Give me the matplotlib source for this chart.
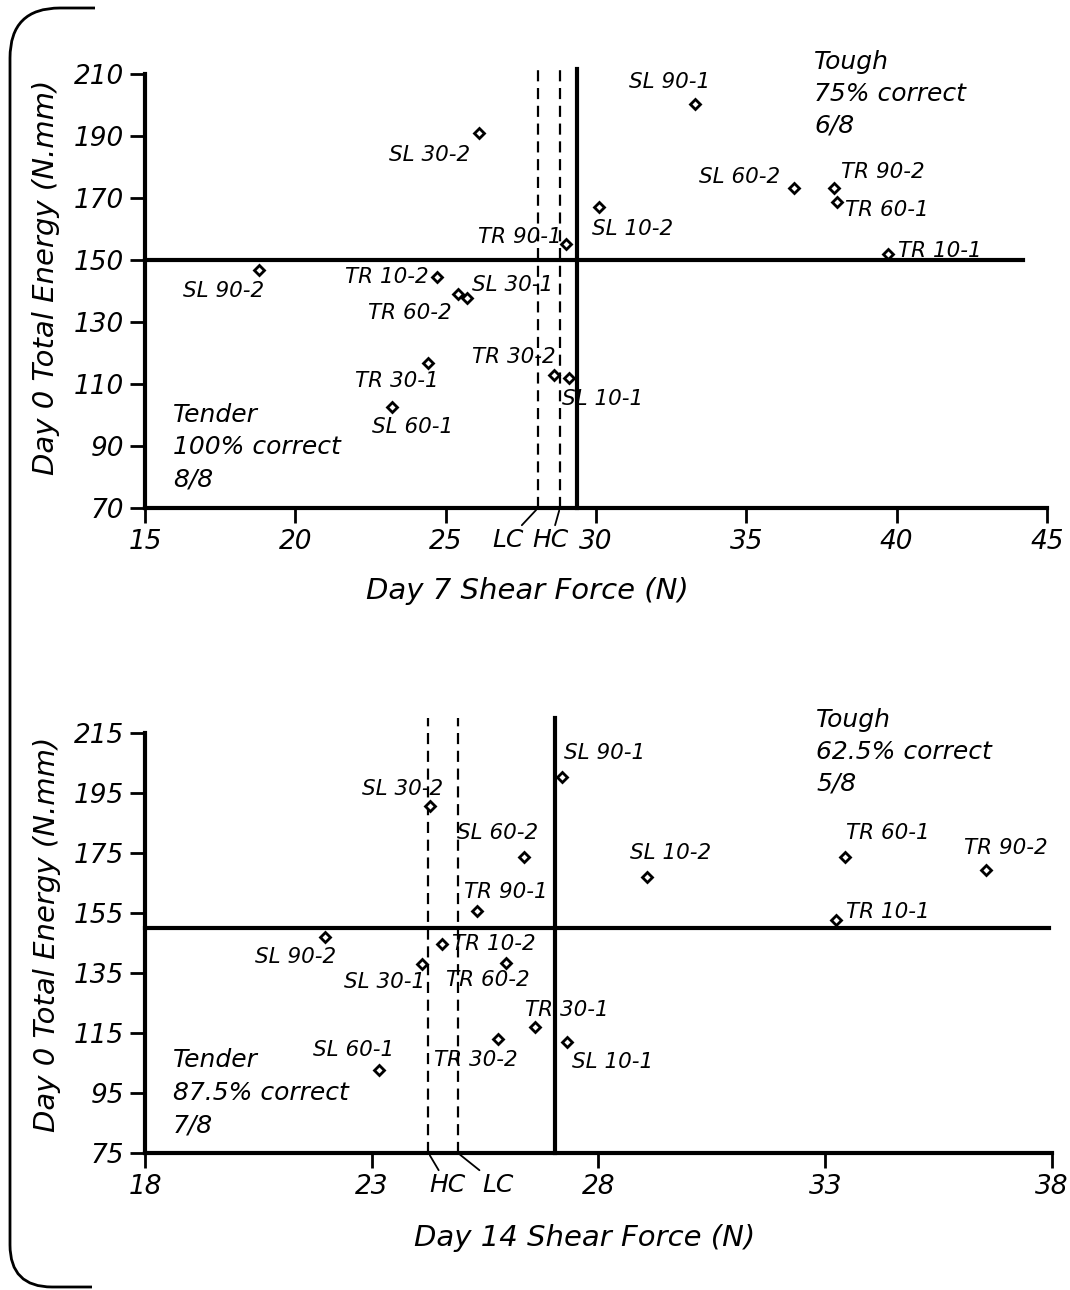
import matplotlib.pyplot as plt
from matplotlib.path import Path
from matplotlib.patches import PathPatch
from matplotlib.transforms import IdentityTransform

# ---- data: day 7 panel ----
d7_names = ["SL 90-1", "SL 30-2", "SL 60-2", "TR 90-2", "TR 60-1", "SL 10-2",
            "TR 90-1", "TR 10-1", "SL 90-2", "TR 10-2", "SL 30-1", "TR 60-2",
            "TR 30-2", "TR 30-1", "SL 10-1", "SL 60-1"]
d7_shear = [33.3, 26.1, 36.6, 37.9, 38.0, 30.1,
            29.0, 39.7, 18.8, 24.7, 25.7, 25.4,
            28.6, 24.4, 29.1, 23.2]
d7_energy = [200.2, 190.7, 173.2, 173.2, 168.5, 167.0,
             155.2, 152.0, 146.8, 144.3, 137.8, 138.8,
             113.0, 116.8, 112.0, 102.5]
d7_lc, d7_hc, d7_cut = 28.07, 28.8, 29.37
d7_tender = ["Tender", "100% correct", "8/8"]
d7_tough = ["Tough", "75% correct", "6/8"]

# ---- data: day 14 panel ----
d14_names = ["SL 90-1", "SL 30-2", "SL 60-2", "TR 60-1", "TR 90-2", "SL 10-2",
             "TR 90-1", "TR 10-1", "SL 90-2", "TR 10-2", "SL 30-1", "TR 60-2",
             "TR 30-2", "TR 30-1", "SL 10-1", "SL 60-1"]
d14_shear = [27.2, 24.28, 26.35, 33.43, 36.54, 29.06,
             25.31, 33.23, 21.97, 24.55, 24.11, 25.97,
             25.78, 26.61, 27.31, 23.17]
d14_energy = [200.4, 190.7, 173.6, 173.6, 169.3, 166.9,
              155.7, 152.7, 147.1, 144.6, 138.0, 138.4,
              113.0, 116.9, 112.1, 102.7]
d14_hc, d14_lc, d14_cut = 24.25, 24.9, 27.03
d14_tender = ["Tender", "87.5% correct", "7/8"]
d14_tough = ["Tough", "62.5% correct", "5/8"]

energy_cut = 150

# label offsets (pixels) relative to each marker
d7_offsets = [(-66, 22), (-90, -22), (-95, 11), (7, 16), (8, -8), (-7, -22),
              (-88, 7), (10, 3), (-76, -21), (-92, 0), (5, 13), (-90, -19),
              (-82, 18), (-73, -18), (-7, -21), (-20, -20)]
d14_offsets = [(2, 24), (-68, 17), (-67, 24), (1, 24), (-22, 22), (-17, 24),
               (-13, 19), (10, 8), (-70, -20), (10, 0), (-78, -18), (-60, -17),
               (-64, -21), (-10, 17), (5, -20), (-66, 20)]

plt.rcParams['font.family'] = ['DejaVu Sans']
plt.rcParams['font.style'] = 'italic'

W, H = 1070, 1290
fig = plt.figure(figsize=(W / 100, H / 100), dpi=100, facecolor='white')

ax1 = fig.add_axes([145 / W, 1 - 508 / H, 902 / W, 434.5 / H])
ax2 = fig.add_axes([145 / W, 1 - 1153 / H, 907 / W, 420 / H])


def style_axes(ax):
    for s in ['top', 'right']:
        ax.spines[s].set_visible(False)
    for s in ['left', 'bottom']:
        ax.spines[s].set_linewidth(3)
    ax.tick_params(direction='out', length=11, width=2, labelsize=19, pad=4)
    ax.set_facecolor('white')


def draw_panel(ax, names, xs, ys, offsets, xlim, ylim, xticks, yticks,
               lines_dash, cut, hline_end, vtop):
    style_axes(ax)
    ax.set_xlim(*xlim)
    ax.set_ylim(*ylim)
    ax.set_xticks(xticks)
    ax.set_yticks(yticks)
    ax.plot(xs, ys, linestyle='none', marker='D', markersize=5.5,
            markerfacecolor='white', markeredgecolor='black',
            markeredgewidth=2, zorder=5, clip_on=False)
    for name, x, y, off in zip(names, xs, ys, offsets):
        ax.annotate(name, (x, y), xytext=off, textcoords='offset pixels',
                    ha='left', va='center', fontsize=15.5)
    ax.plot([xlim[0], hline_end], [energy_cut, energy_cut], color='black',
            linewidth=3, clip_on=False)
    ax.plot([cut, cut], [ylim[0], vtop], color='black', linewidth=3,
            clip_on=False)
    for xd in lines_dash:
        ax.plot([xd, xd], [ylim[0], vtop], color='black', linewidth=1.6,
                linestyle=(0, (5, 3)), clip_on=False)


def block(ax, lines, x, y, step=32):
    # one text per line, stacked downwards
    for i, line in enumerate(lines):
        ax.annotate(line, (x, y), xycoords='axes fraction',
                    xytext=(0, -step * i), textcoords='offset pixels',
                    ha='left', va='center', fontsize=18)


# ---- top panel ----
draw_panel(ax1, d7_names, d7_shear, d7_energy, d7_offsets,
           (15, 45), (70, 210), range(15, 50, 5), range(70, 230, 20),
           [d7_lc, d7_hc], d7_cut, 44.2, 211.5)
ax1.set_xlabel('Day 7 Shear Force (N)', fontsize=21)
ax1.xaxis.set_label_coords(0.424, -0.159)
ax1.set_ylabel('Day 0 Total Energy (N.mm)', fontsize=21)
ax1.yaxis.set_label_coords(-0.094, 0.53)
block(ax1, d7_tender, 0.031, 0.214)
block(ax1, d7_tough, 0.742, 1.0265)
for lbl, xd, off in [('LC', d7_lc, (-30, -32)), ('HC', d7_hc, (-9, -32))]:
    ax1.annotate(lbl, (xd, 70), xytext=off, textcoords='offset pixels',
                 ha='center', va='center', fontsize=18,
                 arrowprops=dict(arrowstyle='-', lw=1.3, color='black',
                                 shrinkA=0, shrinkB=2))

# ---- bottom panel ----
draw_panel(ax2, d14_names, d14_shear, d14_energy, d14_offsets,
           (18, 38), (75, 215), range(18, 43, 5), range(75, 235, 20),
           [d14_hc, d14_lc], d14_cut, 37.93, 220)
ax2.set_xlabel('Day 14 Shear Force (N)', fontsize=21)
ax2.xaxis.set_label_coords(0.485, -0.169)
ax2.set_ylabel('Day 0 Total Energy (N.mm)', fontsize=21)
ax2.yaxis.set_label_coords(-0.093, 0.52)
block(ax2, d14_tender, 0.031, 0.2214, step=32.5)
block(ax2, d14_tough, 0.74, 1.031, step=32)
for lbl, xd, off in [('HC', d14_hc, (19, -32)), ('LC', d14_lc, (40, -32))]:
    ax2.annotate(lbl, (xd, 75), xytext=off, textcoords='offset pixels',
                 ha='center', va='center', fontsize=18,
                 arrowprops=dict(arrowstyle='-', lw=1.3, color='black',
                                 shrinkA=0, shrinkB=2))

# ---- left bracket ----
verts = [(95, H - 8), (60, H - 8), (10, H - 8), (10, H - 58),
         (10, 45), (10, 3), (52, 3), (92, 3)]
codes = [Path.MOVETO, Path.LINETO, Path.CURVE3, Path.CURVE3,
         Path.LINETO, Path.CURVE3, Path.CURVE3, Path.LINETO]
fig.patches.append(PathPatch(Path(verts, codes), transform=IdentityTransform(),
                             fill=False, lw=2, edgecolor='black'))

fig.savefig('out.png', dpi=100, facecolor='white')
